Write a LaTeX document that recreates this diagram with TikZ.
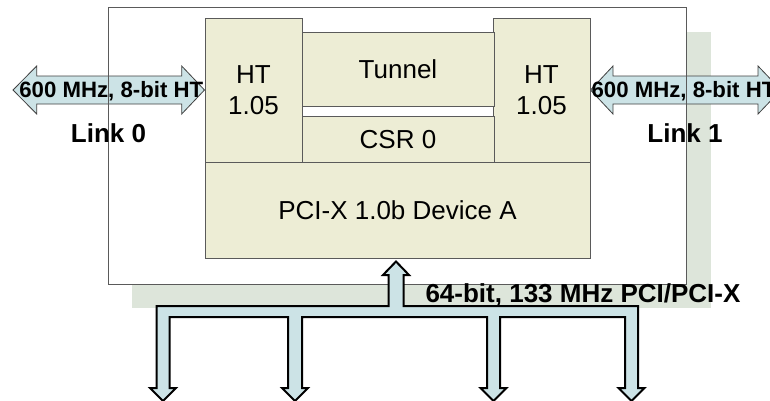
\documentclass[tikz,border=0pt]{standalone}
\usepackage{fontspec}
\setmainfont{Liberation Sans}
\usepackage{graphicx}
\definecolor{boxfill}{HTML}{EDEDD5}
\definecolor{boxline}{HTML}{5A5A5A}
\definecolor{shadowfill}{HTML}{DDE5DA}
\definecolor{arrowfill}{HTML}{CCE3E6}
\definecolor{arrowline}{HTML}{404040}
\begin{document}
\begin{tikzpicture}[x=1pt,y=-1pt,
  blk/.style={draw=boxline,line width=0.9pt,fill=boxfill,inner sep=0pt,align=center,
    font=\fontsize{26}{31.5}\selectfont},
  linkarrow/.style={draw=arrowline,line width=0.8pt,fill=arrowfill,line join=miter},
  busarrow/.style={draw=black,line width=2pt,fill=arrowfill,line join=miter},
  boldlbl/.style={inner sep=0pt,anchor=base,font=\bfseries\fontsize{26}{30}\selectfont},
  speedlbl/.style={inner sep=0pt,anchor=base,font=\bfseries\fontsize{22.2}{26}\selectfont}]
\useasboundingbox (0,0) rectangle (770,400);
\begin{scope}
\clip (0,0) rectangle (770,400);
% shadow and outer box
\fill[shadowfill] (132,32) rectangle (711,308);
\fill[white] (108,7) rectangle (686,284);
% link arrows
\draw[linkarrow] (13,90) -- (36.7,66) -- (36.7,76) -- (181.7,76) -- (181.7,66) -- (204.5,90)
  -- (181.7,114) -- (181.7,104) -- (36.7,104) -- (36.7,114) -- cycle;
\draw[linkarrow] (590.5,90) -- (613,66) -- (613,76) -- (758,76) -- (758,66) -- (781,90)
  -- (758,114) -- (758,104) -- (613,104) -- (613,114) -- cycle;
\draw[boxline,line width=1pt] (108,7) rectangle (686,284);
% inner blocks
\node[blk,minimum width=97,minimum height=144] (htl) at (253.5,90) {HT\\1.05};
\node[blk,minimum width=97,minimum height=144] (htr) at (541.5,90) {HT\\1.05};
\node[blk,minimum width=192,minimum height=74] (tun) at (398,69) {Tunnel};
\node[blk,minimum width=192,minimum height=48] (csr) at (398,140) {CSR 0};
\node[blk,minimum width=385,minimum height=96] (pci) at (397.5,210) {PCI-X 1.0b Device A};
% bus
\draw[busarrow] (396,261.5) -- (409,275) -- (403.5,275) -- (403.5,306) -- (638,306)
  -- (638,388) -- (644.5,388) -- (631.5,401) -- (618.5,388) -- (625,388) -- (625,317)
  -- (500,317) -- (500,388) -- (506.5,388) -- (493.5,401) -- (480.5,388) -- (487,388) -- (487,317)
  -- (302,317) -- (302,388) -- (308,388) -- (295,401) -- (282,388) -- (288,388) -- (288,317)
  -- (169.5,317) -- (169.5,388) -- (176,388) -- (163,401) -- (150,388) -- (156.5,388) -- (156.5,306)
  -- (388.5,306) -- (388.5,275) -- (383,275) -- cycle;
% labels
\node[speedlbl] (s0) at (111.3,97) {600 MHz, 8-bit HT};
\node[speedlbl] (s1) at (683.5,97) {600 MHz, 8-bit HT};
\node[boldlbl] (l0) at (108.5,142) {Link 0};
\node[boldlbl] (l1) at (685,142) {Link 1};
\node[inner sep=0pt,anchor=base,font=\bfseries\fontsize{26}{30}\selectfont] (bus) at (583,302.5)
  {64-bit, 133 MHz PCI/PCI-X};
\end{scope}
\end{tikzpicture}
\end{document}
